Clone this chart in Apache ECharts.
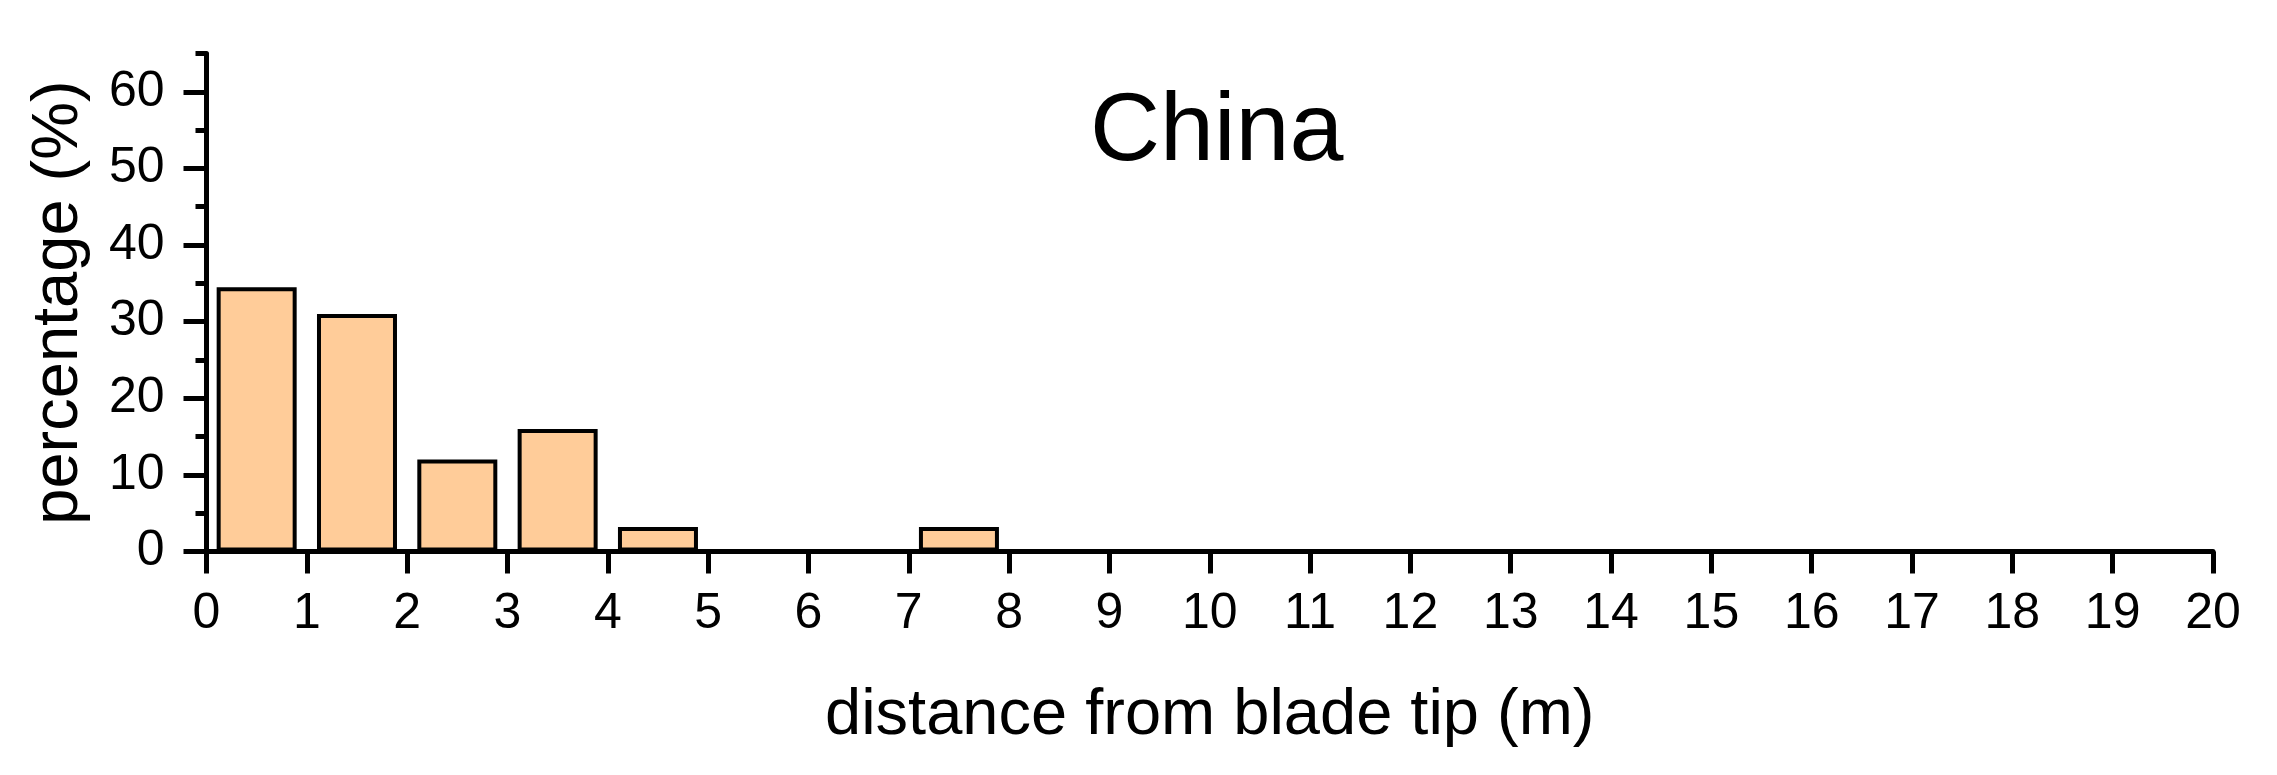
<!DOCTYPE html>
<html>
<head>
<meta charset="utf-8">
<script src="https://cdn.jsdelivr.net/npm/echarts@6/dist/echarts.min.js"></script>
<style>
    html, body { margin: 0; padding: 0; background: #fff; }
    #chart { width: 2277px; height: 775px; }
</style>
</head>
<body>
<div id="chart"></div>
<script>
// bin centres (m) and share of cases per 1 m bin
var binCenters = [0.5, 1.5, 2.5, 3.5, 4.5, 5.5, 6.5, 7.5];
var percentages = [34.5, 31.0, 12.0, 16.0, 3.2, 0, 0, 3.2];
var yMajorTicks = [0, 10, 20, 30, 40, 50, 60];

var FONT = 'Liberation Sans';

// empty bins draw nothing
var barData = [];
binCenters.forEach(function (x, i) {
    if (percentages[i] > 0) barData.push([x, percentages[i]]);
});

var chart = echarts.init(document.getElementById('chart'));

chart.setOption({
    animation: false,
    title: {
        text: 'China',
        left: 1090,
        top: 85,
        padding: 0,
        textStyle: {
            fontFamily: FONT,
            fontSize: 97,
            fontWeight: 'normal',
            color: '#000'
        }
    },
    grid: {
        left: 206.5,
        right: 64,
        top: 53.5,
        bottom: 223.5,
        containLabel: false
    },
    xAxis: {
        type: 'value',
        min: 0,
        max: 20,
        interval: 1,
        name: 'distance from blade tip (m)',
        nameLocation: 'middle',
        nameGap: 132,
        nameTextStyle: { fontFamily: FONT, fontSize: 65, color: '#000' },
        axisLine: { lineStyle: { color: '#000', width: 5 } },
        axisTick: { length: 22, lineStyle: { color: '#000', width: 5 } },
        axisLabel: { fontFamily: FONT, fontSize: 50, color: '#000', margin: 38 },
        splitLine: { show: false }
    },
    yAxis: [
        {
            // short ticks every 5
            type: 'value',
            min: 0,
            max: 65,
            interval: 5,
            name: 'percentage (%)',
            nameLocation: 'middle',
            nameGap: 115,
            nameTextStyle: { fontFamily: FONT, fontSize: 65, color: '#000' },
            axisLine: { show: true, lineStyle: { color: '#000', width: 5 } },
            axisTick: { length: 11, lineStyle: { color: '#000', width: 5 } },
            axisLabel: { show: false },
            splitLine: { show: false }
        },
        {
            // long ticks and labels every 10
            type: 'value',
            position: 'left',
            min: 0,
            max: 65,
            interval: 5,
            axisLine: { show: false },
            axisTick: { length: 23, customValues: yMajorTicks, lineStyle: { color: '#000', width: 5 } },
            axisLabel: { customValues: yMajorTicks, fontFamily: FONT, fontSize: 50, color: '#000', margin: 42 },
            splitLine: { show: false }
        }
    ],
    series: [{
        type: 'bar',
        barWidth: 80,
        itemStyle: {
            color: '#FFCC99',
            borderColor: '#000',
            borderWidth: 4
        },
        data: barData
    }]
});
</script>
</body>
</html>
